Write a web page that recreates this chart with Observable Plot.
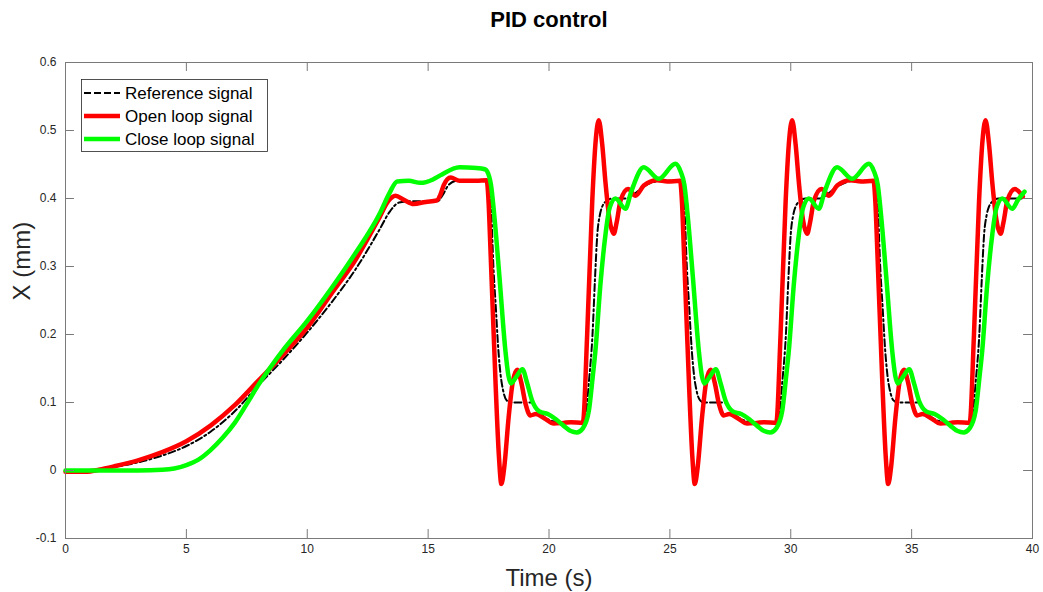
<!DOCTYPE html>
<html>
<head>
<meta charset="utf-8">
<script src="https://cdn.jsdelivr.net/npm/d3@7"></script>
<script src="https://cdn.jsdelivr.net/npm/@observablehq/plot@0.6"></script>
<style>
  html, body { margin: 0; padding: 0; background: #fff; }
  #wrap { position: relative; width: 1043px; height: 592px; font-family: "Liberation Sans", Arial, sans-serif; }
  #legend { position: absolute; left: 81px; top: 79px; }
</style>
</head>
<body>
<div id="wrap"></div>
<script>
// ---- data ----
const xTicks = [0, 5, 10, 15, 20, 25, 30, 35, 40];
const yTicks = [-0.1, 0, 0.1, 0.2, 0.3, 0.4, 0.5, 0.6];
const seriesNames = ["Reference signal", "Open loop signal", "Close loop signal"];

const refT = [0,1,2,3,4,5,6,7,8,9,10,11,12,13,13.4,13.8,14.3,15.4,15.6,15.85,16.2,17.5,
  17.6,17.7,17.8,17.9,18.0,18.1,18.25,18.4,19.3,19.5,19.7,20.2,20.6,21.45,
  21.55,21.65,21.8,21.9,22.0,22.1,22.2,22.4,22.6,23.2,23.5,23.9,24.3,24.6,25.5,
  25.6,25.7,25.8,25.9,26.0,26.1,26.25,26.4,27.3,27.5,27.7,28.2,28.6,29.45,
  29.55,29.65,29.8,29.9,30.0,30.1,30.2,30.4,30.6,31.2,31.5,31.9,32.3,32.6,33.5,
  33.6,33.7,33.8,33.9,34.0,34.1,34.25,34.4,35.3,35.5,35.7,36.2,36.6,37.45,
  37.55,37.65,37.8,37.9,38.0,38.1,38.2,38.4,38.6,39.6];
const refX = [0,0.001,0.005,0.012,0.022,0.036,0.057,0.087,0.126,0.163,0.203,0.247,0.296,0.355,0.38,0.394,0.396,0.396,0.405,0.42,0.426,0.426,
  0.39,0.3,0.24,0.18,0.14,0.118,0.103,0.1,0.1,0.09,0.082,0.072,0.07,0.07,
  0.09,0.13,0.2,0.28,0.348,0.375,0.388,0.397,0.4,0.4,0.406,0.417,0.424,0.426,0.426,
  0.39,0.3,0.24,0.18,0.14,0.118,0.103,0.1,0.1,0.09,0.082,0.072,0.07,0.07,
  0.09,0.13,0.2,0.28,0.348,0.375,0.388,0.397,0.4,0.4,0.406,0.417,0.424,0.426,0.426,
  0.39,0.3,0.24,0.18,0.14,0.118,0.103,0.1,0.1,0.09,0.082,0.072,0.07,0.07,
  0.09,0.13,0.2,0.28,0.348,0.375,0.388,0.397,0.4,0.4];

const openT = [0,0.8,1.5,2,3,4,5,6,7,8,9,10,11,12,13,13.35,13.65,14.0,14.4,14.9,15.35,15.5,15.65,15.93,16.3,17.0,17.42,
  17.5,17.58,17.79,17.93,18.03,18.15,18.33,18.5,18.68,18.85,19.03,19.23,19.45,19.8,20.2,20.6,20.9,21.4,
  21.58,21.79,21.92,22.06,22.2,22.34,22.5,22.68,22.8,22.96,23.27,23.58,23.92,24.47,24.9,25.42,
  25.5,25.58,25.79,25.93,26.03,26.15,26.33,26.5,26.68,26.85,27.03,27.23,27.45,27.8,28.2,28.6,28.9,29.4,
  29.58,29.79,29.92,30.06,30.2,30.34,30.5,30.68,30.8,30.96,31.27,31.58,31.92,32.47,32.9,33.42,
  33.5,33.58,33.79,33.93,34.03,34.15,34.33,34.5,34.68,34.85,35.03,35.23,35.45,35.8,36.2,36.6,36.9,37.4,
  37.58,37.79,37.92,38.06,38.2,38.34,38.5,38.68,38.8,38.96,39.27,39.6];
const openX = [-0.002,-0.002,0.002,0.006,0.015,0.027,0.043,0.066,0.096,0.133,0.17,0.21,0.26,0.31,0.373,0.396,0.404,0.398,0.392,0.395,0.397,0.405,0.42,0.431,0.426,0.426,0.427,
  0.395,0.324,0.128,0.02,-0.02,0.005,0.078,0.13,0.148,0.13,0.098,0.081,0.083,0.077,0.069,0.07,0.071,0.07,
  0.201,0.397,0.48,0.515,0.48,0.422,0.37,0.348,0.365,0.397,0.414,0.404,0.419,0.427,0.425,0.426,
  0.395,0.324,0.128,0.02,-0.02,0.005,0.078,0.13,0.148,0.13,0.098,0.081,0.083,0.077,0.069,0.07,0.071,0.07,
  0.201,0.397,0.48,0.515,0.48,0.422,0.37,0.348,0.365,0.397,0.414,0.404,0.419,0.427,0.425,0.426,
  0.395,0.324,0.128,0.02,-0.02,0.005,0.078,0.13,0.148,0.13,0.098,0.081,0.083,0.077,0.069,0.07,0.071,0.07,
  0.201,0.397,0.48,0.515,0.48,0.422,0.37,0.348,0.365,0.397,0.414,0.403];

const closeT = [0,3,4,4.5,5,5.5,6,6.5,7,7.5,8,8.5,9,10,11,12,13,13.4,13.72,14.2,14.68,15.2,15.5,16.3,17.0,17.35,
  17.44,17.6,17.75,17.95,18.2,18.32,18.43,18.65,18.9,19.1,19.3,19.6,19.95,20.3,20.6,20.9,21.15,
  21.4,21.65,21.8,21.92,22.13,22.34,22.5,22.75,23.16,23.4,23.92,24.54,25.23,25.44,
  25.6,25.75,25.95,26.2,26.32,26.43,26.65,26.9,27.1,27.3,27.6,27.95,28.3,28.6,28.9,29.15,
  29.4,29.65,29.8,29.92,30.13,30.34,30.5,30.75,31.16,31.4,31.92,32.54,33.23,33.44,
  33.6,33.75,33.95,34.2,34.32,34.43,34.65,34.9,35.1,35.3,35.6,35.95,36.3,36.6,36.9,37.15,
  37.4,37.65,37.8,37.92,38.13,38.34,38.5,38.75,39.16,39.4,39.67];
const closeX = [0,0,0.001,0.003,0.008,0.016,0.03,0.048,0.07,0.098,0.127,0.153,0.177,0.22,0.268,0.32,0.378,0.408,0.425,0.426,0.423,0.428,0.434,0.446,0.445,0.443,
  0.44,0.42,0.37,0.285,0.175,0.14,0.128,0.138,0.149,0.128,0.103,0.087,0.083,0.075,0.066,0.058,0.056,
  0.062,0.088,0.135,0.176,0.275,0.348,0.385,0.4,0.385,0.41,0.446,0.429,0.451,0.44,
  0.42,0.37,0.285,0.175,0.14,0.128,0.138,0.149,0.128,0.103,0.087,0.083,0.075,0.066,0.058,0.056,
  0.062,0.088,0.135,0.176,0.275,0.348,0.385,0.4,0.385,0.41,0.446,0.429,0.451,0.44,
  0.42,0.37,0.285,0.175,0.14,0.128,0.138,0.149,0.128,0.103,0.087,0.083,0.075,0.066,0.058,0.056,
  0.062,0.088,0.135,0.176,0.275,0.348,0.385,0.4,0.385,0.398,0.41];

// ---- chart ----
const axisGray = "#7a7a7a";
const font = "'Liberation Sans', Arial, Helvetica, sans-serif";
const fmtY = d => String(Math.round(d * 10) / 10);

const chart = Plot.plot({
  width: 1043,
  height: 592,
  marginLeft: 65,
  marginRight: 11,
  marginTop: 62,
  marginBottom: 54,
  style: { fontFamily: font, fontSize: "12px", color: "#262626", background: "#fff", overflow: "visible" },
  x: { domain: [0, 40], ticks: xTicks, tickSize: 0, tickPadding: 6, tickFormat: d => String(d), label: null },
  y: { domain: [-0.1, 0.6], ticks: yTicks, tickSize: 0, tickPadding: 9, tickFormat: fmtY, label: null },
  marks: [
    Plot.line(refT, { x: refT, y: refX, stroke: "#000", strokeWidth: 2, strokeDasharray: "7,3,2,3", curve: "monotone-x" }),
    Plot.line(openT, { x: openT, y: openX, stroke: "#ff0000", strokeWidth: 4.5, strokeLinejoin: "round", curve: "monotone-x" }),
    Plot.line(closeT, { x: closeT, y: closeX, stroke: "#00ff00", strokeWidth: 4.5, strokeLinejoin: "round", curve: "monotone-x" }),
    // inward ticks on all four sides (MATLAB box style)
    Plot.ruleY(yTicks, { y: d => d, x1: 0, x2: 0.37, stroke: axisGray }),
    Plot.ruleY(yTicks, { y: d => d, x1: 39.63, x2: 40, stroke: axisGray }),
    Plot.ruleX(xTicks, { x: d => d, y1: -0.1, y2: -0.0868, stroke: axisGray }),
    Plot.ruleX(xTicks, { x: d => d, y1: 0.5868, y2: 0.6, stroke: axisGray }),
    Plot.frame({ stroke: axisGray }),
    Plot.text(["PID control"], { text: d => d, frameAnchor: "top", lineAnchor: "middle", dy: -43, fontSize: 22, fontWeight: "bold", fill: "#000" }),
    Plot.text(["Time (s)"], { text: d => d, frameAnchor: "bottom", lineAnchor: "middle", dy: 40, fontSize: 24, fill: "#262626" }),
    Plot.text(["X (mm)"], { text: d => d, frameAnchor: "left", lineAnchor: "middle", dx: -43, rotate: -90, fontSize: 24, fill: "#262626" })
  ]
});
document.getElementById("wrap").appendChild(chart);

// ---- legend (overlay) ----
const legendStyles = [
  { stroke: "#000", width: 2, dash: "7,3" },
  { stroke: "#ff0000", width: 4.5, dash: null },
  { stroke: "#00ff00", width: 4.5, dash: null }
];
const lg = d3.select("#wrap").append("svg").attr("id", "legend").attr("width", 187).attr("height", 73);
lg.append("rect").attr("x", 0.5).attr("y", 0.5).attr("width", 186).attr("height", 72)
  .attr("fill", "#fff").attr("stroke", "#262626").attr("stroke-width", 0.8);
seriesNames.forEach((name, i) => {
  const yy = 14 + i * 23;
  const s = legendStyles[i];
  const ln = lg.append("line").attr("x1", 3).attr("x2", 39).attr("y1", yy).attr("y2", yy)
    .attr("stroke", s.stroke).attr("stroke-width", s.width);
  if (s.dash) ln.attr("stroke-dasharray", s.dash);
  lg.append("text").attr("x", 44).attr("y", yy).attr("dy", "0.35em")
    .attr("font-family", font).attr("font-size", 17).attr("fill", "#000").text(name);
});
</script>
</body>
</html>
